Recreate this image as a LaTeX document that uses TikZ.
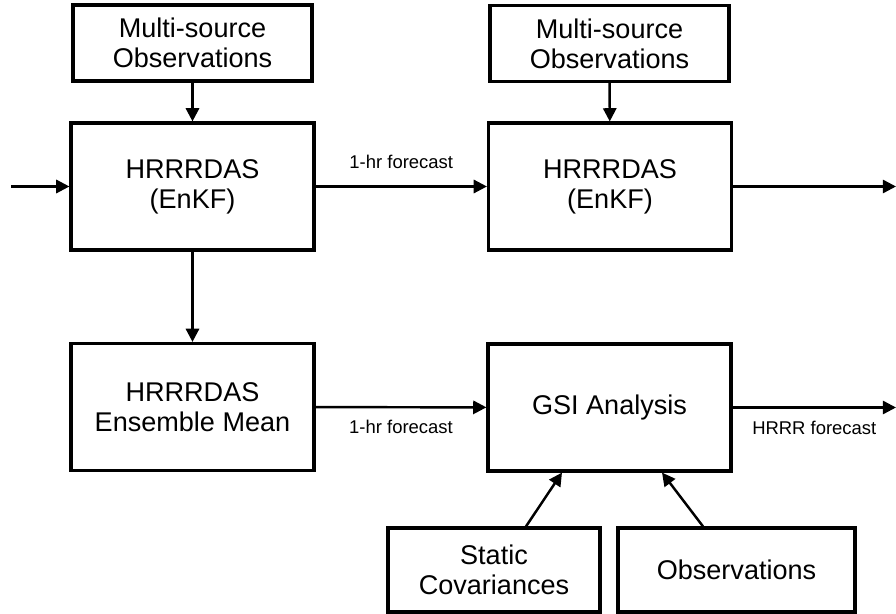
\documentclass[tikz,border=0pt]{standalone}
\usepackage{fontspec}
\setmainfont{Liberation Sans}
\usetikzlibrary{arrows.meta}

\def\leftcol{3.85}
\def\rightcol{12.2}

\begin{document}
\begin{tikzpicture}[-{Triangle[length=7.5pt,width=7.5pt]},draw=black!100,line width=1.4pt]
	\tikzstyle{box}=[rectangle,draw=black,line width=1.8pt,fill=white,align=center,inner sep=0pt,font=\fontsize{15.4}{17}\selectfont]
	\tikzstyle{obs box}=[box,minimum width=4.78cm,minimum height=1.52cm]
	\tikzstyle{da box}=[box,minimum width=4.86cm,minimum height=2.54cm]
	\tikzstyle{input box}=[box,minimum height=1.68cm]
	\tikzstyle{annot}=[font=\fontsize{10.5}{12}\selectfont]

	\useasboundingbox (0,0) rectangle (17.92,-12.28);

	% Draw the observation boxes on top
	\node[obs box] (O-1) at (\leftcol,-0.86) {Multi-source\\Observations};
	\node[obs box] (O-2) at (12.19,-0.87) {Multi-source\\Observations};

	% Draw the ensemble cycle
	\node[da box] (E-1) at (\leftcol,-3.73) {HRRRDAS\\(EnKF)};
	\node[da box] (E-2) at (\rightcol,-3.73) {HRRRDAS\\(EnKF)};

	% Draw the mean and the analysis
	\node[da box] (M) at (\leftcol,-8.14) {HRRRDAS\\Ensemble Mean};
	\node[da box] (G) at (12.19,-8.15) {GSI Analysis};

	% Draw the inputs of the analysis
	\node[input box,minimum width=4.24cm] (S) at (9.88,-11.4) {Static\\Covariances};
	\node[input box,minimum width=4.74cm] (B) at (14.73,-11.4) {Observations};

	% Free ends of the cycle
	\coordinate (in) at (0.22,-3.73);
	\coordinate (out-1) at (17.92,-3.73);
	\coordinate (out-2) at (17.92,-8.15);

	% Connect the boxes
	\path (O-1) edge (E-1);
	\path (O-2) edge (E-2);
	\path (in) edge (E-1);
	\path (E-1) edge node[annot,above=0.22cm] {1-hr forecast} (E-2);
	\path (E-2) edge (out-1);
	\path (E-1) edge (M);
	\path (M) edge node[annot,below=0.125cm] {1-hr forecast} (G);
	\path (G) edge node[annot,below=0.125cm] {HRRR forecast} (out-2);
	\draw ([xshift=0.64cm]S.north) -- ([xshift=-0.95cm]G.south);
	\draw ([xshift=-0.67cm]B.north) -- ([xshift=1.05cm]G.south);
\end{tikzpicture}
\end{document}
